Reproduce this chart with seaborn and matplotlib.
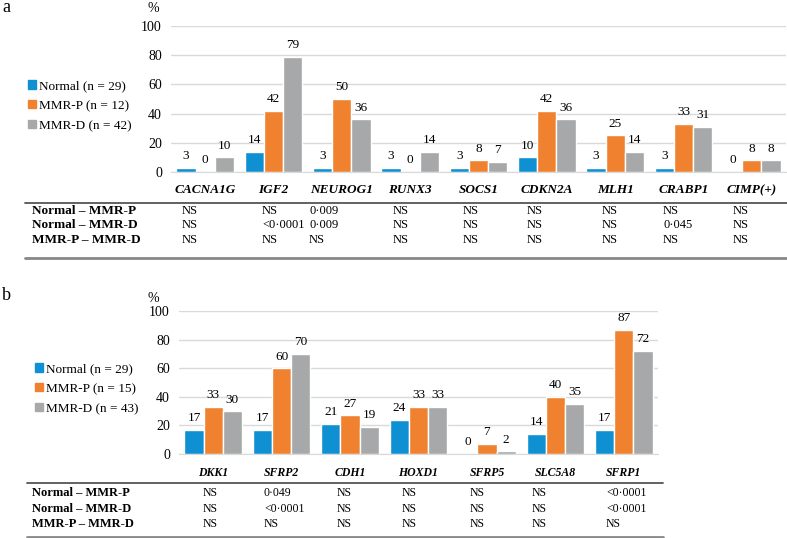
import pandas as pd
import matplotlib.pyplot as plt
import seaborn as sns
from matplotlib.lines import Line2D
from matplotlib.patches import Patch

sns.set_style("white")
plt.rcParams["font.family"] = ["Liberation Serif", "DejaVu Serif"]
plt.rcParams["text.color"] = "black"
plt.rcParams["xtick.color"] = "black"
plt.rcParams["ytick.color"] = "black"

# Panel a data
genes_a = ["CACNA1G", "IGF2", "NEUROG1", "RUNX3", "SOCS1", "CDKN2A", "MLH1", "CRABP1", "CIMP(+)"]
normal_a = [3, 14, 3, 3, 3, 10, 3, 3, 0]
mmrp_a = [0, 42, 50, 0, 8, 42, 25, 33, 8]
mmrd_a = [10, 79, 36, 14, 7, 36, 14, 31, 8]
groups_a = ["Normal (n = 29)", "MMR-P (n = 12)", "MMR-D (n = 42)"]

# Panel b data
genes_b = ["DKK1", "SFRP2", "CDH1", "HOXD1", "SFRP5", "SLC5A8", "SFRP1"]
normal_b = [17, 17, 21, 24, 0, 14, 17]
mmrp_b = [33, 60, 27, 33, 7, 40, 87]
mmrd_b = [30, 70, 19, 33, 2, 35, 72]
groups_b = ["Normal (n = 29)", "MMR-P (n = 15)", "MMR-D (n = 43)"]

# P-value tables
comparisons = ["Normal \u2013 MMR-P", "Normal \u2013 MMR-D", "MMR-P \u2013 MMR-D"]
pvals_a = [
    ["NS", "NS", "0\u00b7009", "NS", "NS", "NS", "NS", "NS", "NS"],
    ["NS", "<0\u00b70001", "0\u00b7009", "NS", "NS", "NS", "NS", "0\u00b7045", "NS"],
    ["NS", "NS", "NS", "NS", "NS", "NS", "NS", "NS", "NS"],
]
pvals_b = [
    ["NS", "0\u00b7049", "NS", "NS", "NS", "NS", "<0\u00b70001"],
    ["NS", "<0\u00b70001", "NS", "NS", "NS", "NS", "<0\u00b70001"],
    ["NS", "NS", "NS", "NS", "NS", "NS", "NS"],
]

colors = ["#0E90D2", "#F0822F", "#A6A8A9"]
W, H = 787, 538

fig = plt.figure(figsize=(W / 100, H / 100), dpi=100)


def fx(x):
    return x / W


def fy(y):
    return 1 - y / H


def to_long(genes, series, groups):
    rows = []
    for g, vals in zip(groups, series):
        for gene, v in zip(genes, vals):
            rows.append({"gene": gene, "group": g, "pct": v})
    return pd.DataFrame(rows)


def bar_panel(box, genes, series, groups, legend_xy, label_fs):
    x0, x1, ytop, ybot = box
    ax = fig.add_axes([fx(x0), fy(ybot), (x1 - x0) / W, (ybot - ytop) / H])
    df = to_long(genes, series, groups)
    sns.barplot(data=df, x="gene", y="pct", hue="group", palette=colors,
                width=0.84, saturation=1, ax=ax, legend=False, errorbar=None)
    for c in ax.containers:
        ax.bar_label(c, fmt="%d", padding=4, fontsize=9.5, clip_on=False)
    ax.set_ylim(0, 100)
    ax.set_yticks([0, 20, 40, 60, 80, 100])
    ax.tick_params(axis="y", labelsize=10, length=0, pad=6.5)
    ax.tick_params(axis="x", labelsize=label_fs, length=0, pad=9)
    for lab in ax.get_xticklabels():
        lab.set_fontweight("bold")
        lab.set_fontstyle("italic")
    ax.set_xlabel("")
    ax.set_ylabel("")
    ax.grid(axis="y", color="#D9D9D9", lw=1)
    ax.set_axisbelow(True)
    for s in ["left", "right", "top"]:
        ax.spines[s].set_visible(False)
    ax.spines["bottom"].set_color("#D9D9D9")
    handles = [Patch(color=c) for c in colors]
    fig.legend(handles, groups, loc="upper left",
               bbox_to_anchor=(fx(legend_xy[0]), fy(legend_xy[1])),
               frameon=False, fontsize=9.5, handlelength=0.6, handleheight=0.6,
               handletextpad=0.25, labelspacing=0.6, borderpad=0, borderaxespad=0)
    return ax


def p_table(rows_y, line_y, line_x, col_x, pvals, fs_lab, fs_val):
    fig.add_artist(Line2D([fx(line_x[0]), fx(line_x[1])], [fy(line_y[0])] * 2,
                          color="#555555", lw=1.3))
    fig.add_artist(Line2D([fx(line_x[0]), fx(line_x[1])], [fy(line_y[1])] * 2,
                          color="#888888", lw=2))
    for comp, y, vals in zip(comparisons, rows_y, pvals):
        fig.text(fx(32), fy(y), comp, fontsize=fs_lab, fontweight="bold", va="center")
        for x, v in zip(col_x, vals):
            fig.text(fx(x), fy(y), v, fontsize=fs_val, va="center")


# panel a
fig.text(fx(2), fy(8), "a", fontsize=13, va="center")
fig.text(fx(148), fy(9), "%", fontsize=10, va="center")
bar_panel((171, 786, 26, 172), genes_a, [normal_a, mmrp_a, mmrd_a], groups_a, (28, 80), 9.5)
p_table([211, 225, 240], (203, 258), (25, 787),
        [182, 262, 309, 393, 463, 527, 602, 663, 733], pvals_a, 9.5, 9)

# panel b
fig.text(fx(2), fy(296), "b", fontsize=13, va="center")
fig.text(fx(148), fy(298), "%", fontsize=10, va="center")
bar_panel((179, 658, 311, 454), genes_b, [normal_b, mmrp_b, mmrd_b], groups_b, (35, 363), 8.5)
p_table([493, 509, 524], (483, 537), (27, 663),
        [203, 264, 337, 402, 470, 532, 606], pvals_b, 9, 8.5)

fig.savefig("out.png", dpi=100)
